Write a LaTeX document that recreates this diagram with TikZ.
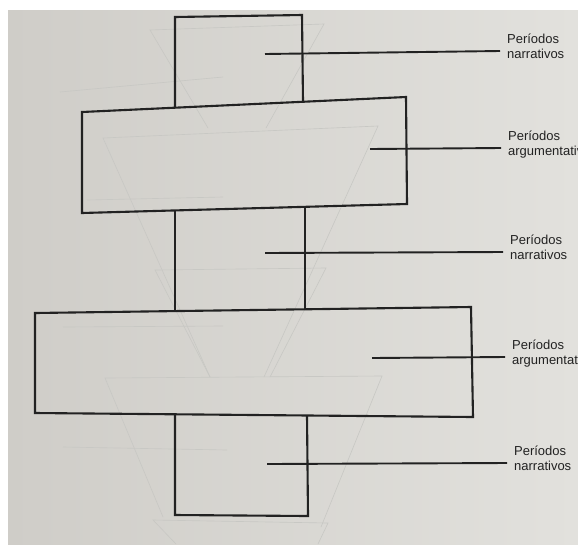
\documentclass[tikz,border=0pt]{standalone}
\usepackage{fontspec}
\setmainfont{Liberation Sans}
\usetikzlibrary{positioning}
\definecolor{page}{RGB}{226,225,221}
\definecolor{pagedark}{RGB}{207,205,200}
\definecolor{ghostgray}{RGB}{200,200,196}
\definecolor{ink}{RGB}{34,34,34}
\newcommand{\lbl}[2]{\rule{0pt}{0.8em}#1\\#2\rule[-0.8em]{0pt}{0.8em}}

\begin{document}
\begin{tikzpicture}[x=0.5mm,y=-0.5mm,
period/.style={draw=ink,line width=3pt,line join=miter},
lead/.style={draw=ink,line width=2.7pt},
tag/.style={anchor=west,align=left,inner xsep=3.5mm,inner ysep=0pt,
text=ink,font=\fontsize{18.5}{20.5}\selectfont},
ghost/.style={draw=ghostgray,line width=0.9pt},
]
\useasboundingbox (0,0) rectangle (578,544);
\fill[white] (0,0) rectangle (578,544);
\shade[left color=pagedark,right color=page] (8,10) rectangle (578,544);

% show-through
\draw[ghost] (208,128) -- (150,30) -- (324,24) -- (266,128);
\draw[ghost] (210,377) -- (103,138) -- (378,126) -- (264,377);
\draw[ghost] (210,377) -- (155,270) -- (326,268) -- (270,377);
\draw[ghost] (163,517) -- (105,378) -- (382,376) -- (321,527);
\draw[ghost] (176,544) -- (153,520) -- (328,523) -- (318,544);
\draw[ghost] (60,92) -- (223,77);
\draw[ghost] (87,200) -- (223,197);
\draw[ghost] (63,327) -- (223,326);
\draw[ghost] (63,447) -- (227,450);

% periods
\draw[period] (175,107.7) -- (175,17) -- (302,15) -- (303,101.8);
\draw[period] (82,112) -- (406,97) -- (407,204) -- (82,213) -- cycle;
\draw[period] (175,210.4) -- (175,311.1);
\draw[period] (305,206.8) -- (305,309.3);
\draw[period] (35,313) -- (471,307) -- (473,417) -- (35,413) -- cycle;
\draw[period] (175,414.3) -- (175,515) -- (308,516) -- (307,415.5);

% labels
\coordinate (s1) at (265,54);
\coordinate (s2) at (370,149);
\coordinate (s3) at (265,253);
\coordinate (s4) at (372,358);
\coordinate (s5) at (267,464);
\node (n1)[tag] at (500,51) {\lbl{Períodos}{narrativos}};
\node (n2)[tag] at (501,148) {\lbl{Períodos}{argumentativos}};
\node (n3)[tag] at (503,252) {\lbl{Períodos}{narrativos}};
\node (n4)[tag] at (505,357) {\lbl{Períodos}{argumentativos}};
\node (n5)[tag] at (507,463) {\lbl{Períodos}{narrativos}};
\draw[lead] (s1) -- (n1.west);
\draw[lead] (s2) -- (n2.west);
\draw[lead] (s3) -- (n3.west);
\draw[lead] (s4) -- (n4.west);
\draw[lead] (s5) -- (n5.west);
\end{tikzpicture}
\end{document}
